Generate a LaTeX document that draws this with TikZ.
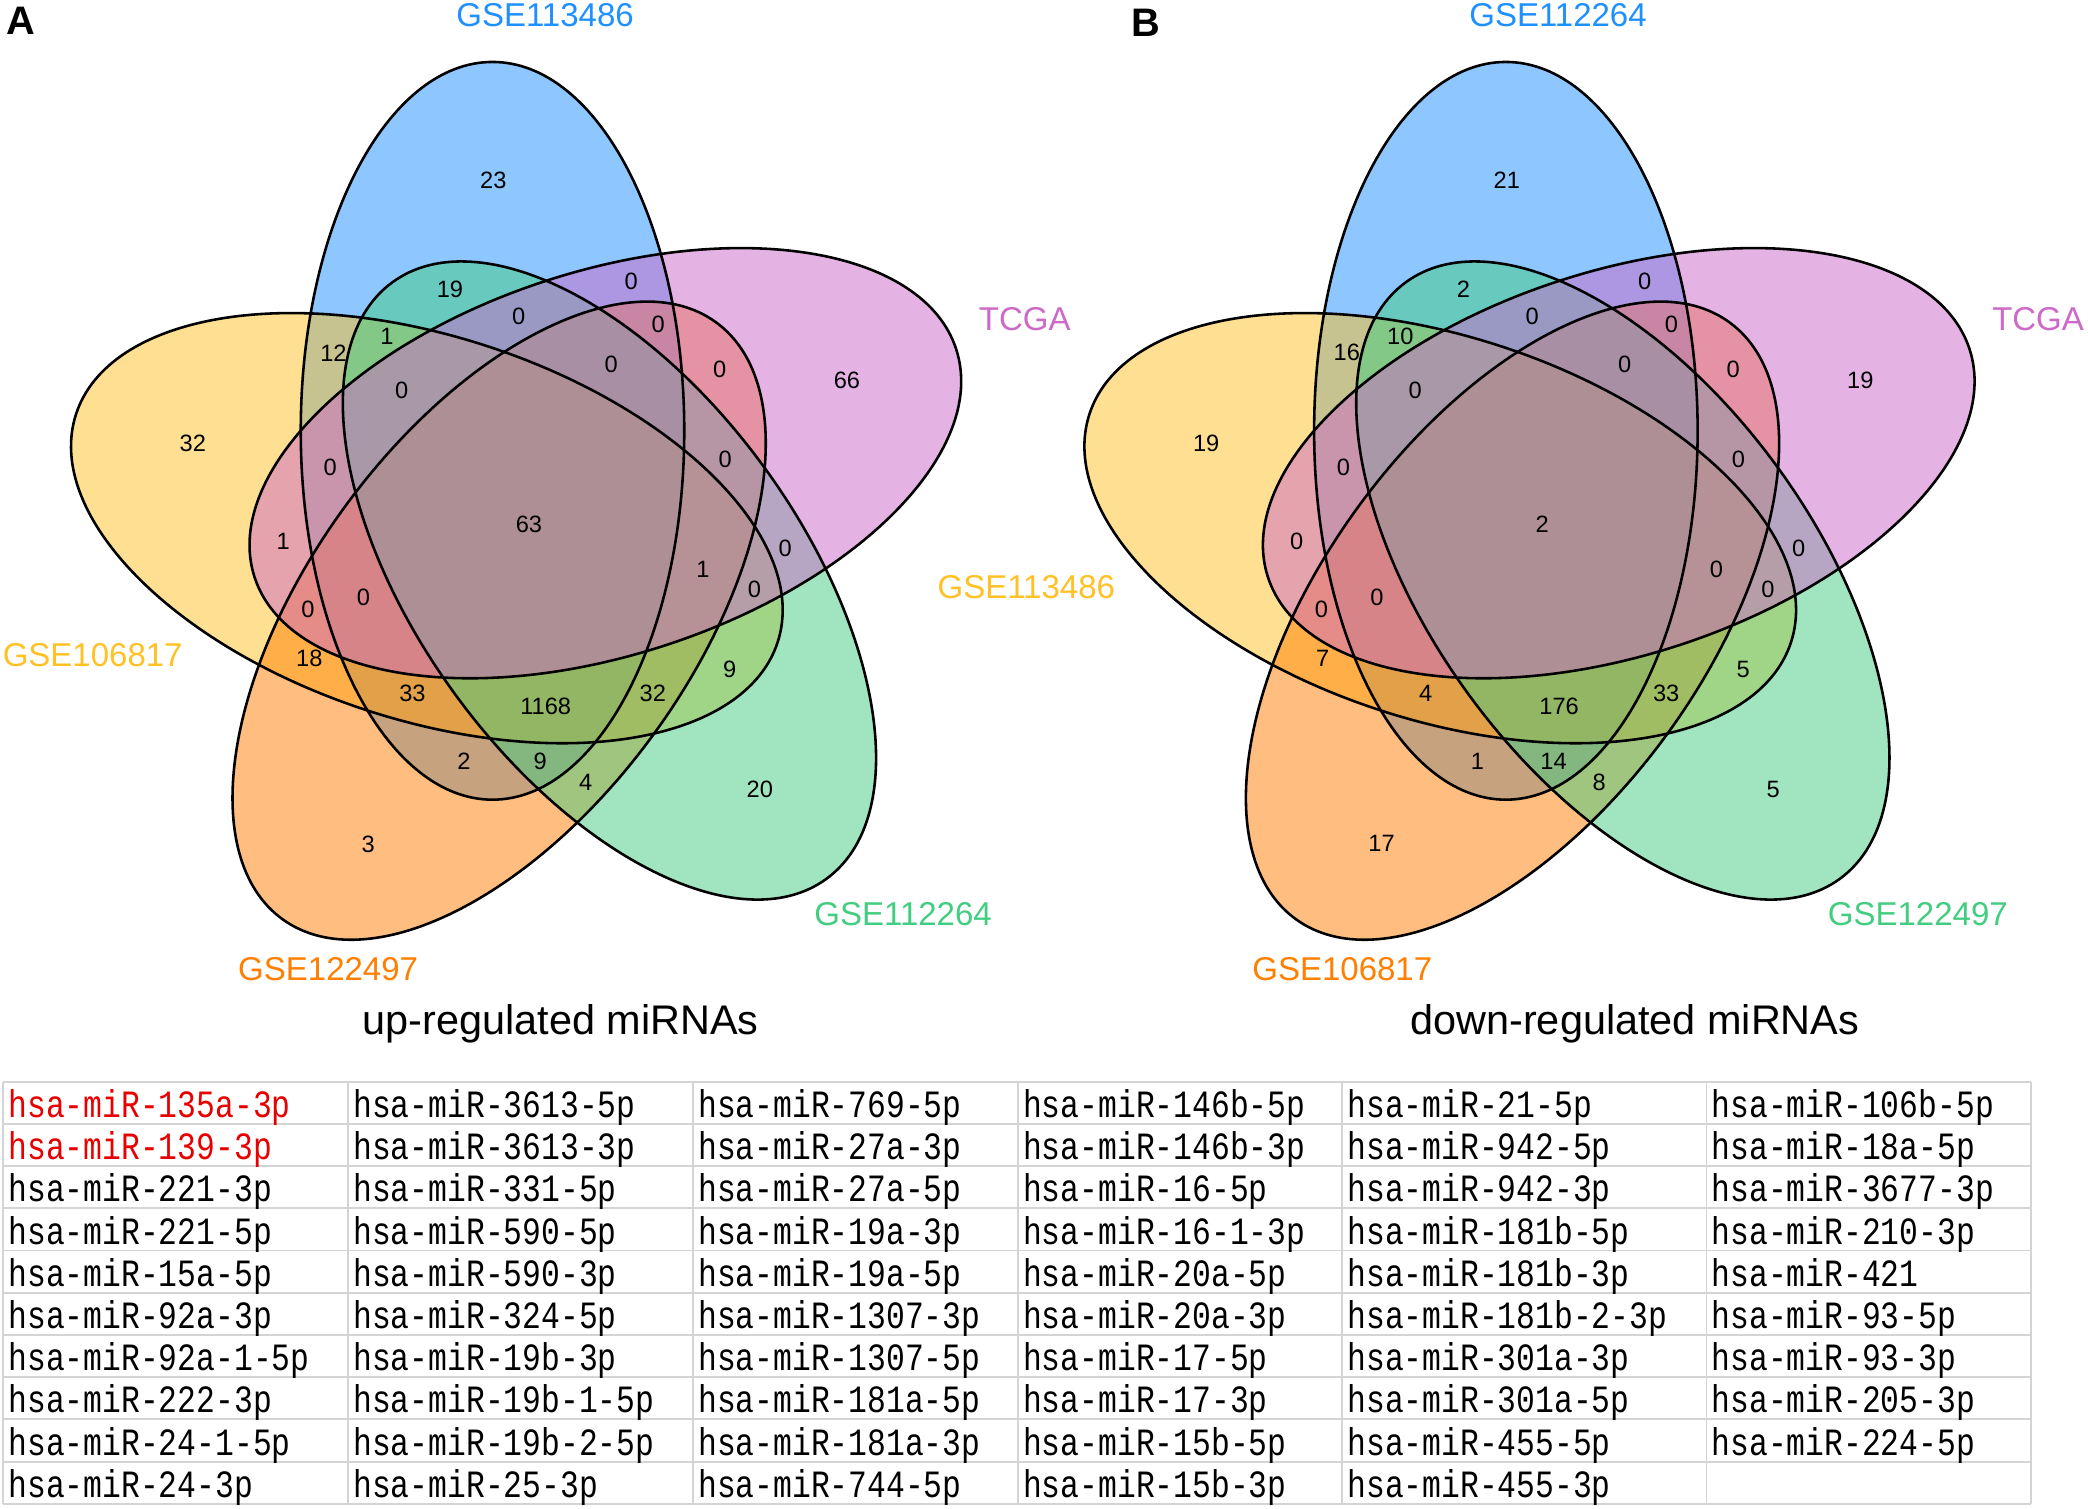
\documentclass[tikz,border=0pt]{standalone}
\usepackage{fontspec}
\setmainfont{Liberation Sans}
\newfontfamily\tabfont[FakeStretch=0.812]{Liberation Mono}
\usepackage{tikz}

\definecolor{setblue}{RGB}{30,144,255}
\definecolor{setyellow}{RGB}{255,193,37}
\definecolor{setorange}{RGB}{255,127,0}
\definecolor{setgreen}{RGB}{67,205,128}
\definecolor{setpink}{RGB}{205,105,201}
\definecolor{mirred}{RGB}{232,0,0}
\definecolor{gridgray}{RGB}{212,212,212}

\tikzset{
  vennline/.style={draw=black, line width=1.1pt},
  setnum/.style={inner sep=0pt, font=\fontsize{10.1}{12}\selectfont},
  setlabel/.style={inner sep=0pt, font=\fontsize{14.1}{16}\selectfont},
  paneltag/.style={inner sep=0pt, font=\bfseries\fontsize{17}{19}\selectfont},
  paneltitle/.style={inner sep=0pt, anchor=base, font=\fontsize{17.7}{20}\selectfont},
  gridline/.style={draw=gridgray, line width=0.8pt},
  cellbox/.style={inner sep=0pt, anchor=base west, font=\tabfont\fontsize{16.5}{18}\selectfont}
}

\begin{document}
\begin{tikzpicture}[x=0.2mm, y=-0.2mm]
        \def \cx {395.5}   % centre of the five ellipses (panel A)
        \def \cy {394}
        \def \rr {75}      % distance of each ellipse centre from it
        \def \ra {277}
        \def \rb {144}
        \def \shiftB {761} % panel B is panel A moved right
        \def \rowtop {812.3}
        \def \rowh {31.7}

        \useasboundingbox (0,0) rectangle (1568,1133);
        \fill[white] (0,0) rectangle (1568,1133);

        % fills first, outlines on top
        \foreach \dx in {0,\shiftB}{
          \foreach \col [count=\k from 0] in {setblue,setyellow,setorange,setgreen,setpink}{
            \pgfmathsetmacro\ecx{\cx+\dx+\rr*cos(110+72*\k)}
            \pgfmathsetmacro\ecy{\cy-\rr*sin(110+72*\k)}
            \pgfmathsetmacro\erot{90+72*\k}
            \fill[\col, fill opacity=.5, rotate around={\erot:(\ecx,\ecy)}]
              (\ecx,\ecy) ellipse [x radius=\ra, y radius=\rb];
          }
        }
        \foreach \dx in {0,\shiftB}{
          \foreach \k in {0,...,4}{
            \pgfmathsetmacro\ecx{\cx+\dx+\rr*cos(110+72*\k)}
            \pgfmathsetmacro\ecy{\cy-\rr*sin(110+72*\k)}
            \pgfmathsetmacro\erot{90+72*\k}
            \draw[vennline, rotate around={\erot:(\ecx,\ecy)}]
              (\ecx,\ecy) ellipse [x radius=\ra, y radius=\rb];
          }
        }

        % region counts: x / y / up / down
        \foreach \px/\py/\na/\nb [count=\i] in {
            370.5/135.7/23/21, 337.9/217/19/2, 474/211.4/0/0, 636/286/66/19,
            250.4/264.9/12/16, 290.6/252.7/1/10, 389.6/237.7/0/0, 494.2/243.7/0/0,
            301.7/293.3/0/0, 459/273.9/0/0, 540.5/277/0/0, 144.8/333.3/32/19,
            247.9/350.6/0/0, 544.5/345/0/0, 397.2/394/63/2, 212.7/406.3/1/0,
            589.7/411.7/0/0, 527.9/427.2/1/0, 273/448.4/0/0, 566.6/442.5/0/0,
            231.3/457.3/0/0, 232.3/494.3/18/7, 548/502.8/9/5, 309.7/521/33/4,
            490.2/521/32/33, 409.8/530.5/1168/176, 348.4/572/2/1, 405.7/572/9/14,
            439.9/587.3/4/8, 570.6/592.7/20/5, 276.5/633.7/3/17}{
          \node[setnum] (na\i) at (\px,\py) {\na};
          \node[setnum] (nb\i) at (\px+\shiftB,\py) {\nb};
        }

        % set names
        \foreach \t/\col/\px/\py [count=\i] in {
            GSE113486/setblue/409.3/11.3, TCGA/setpink/769.5/240,
            GSE106817/setyellow/69.6/492.1, GSE112264/setgreen/678.2/686.5,
            GSE122497/setorange/246.4/727.5,
            GSE112264/setblue/1170/11.2, TCGA/setpink/1530.5/240,
            GSE113486/setyellow/770.7/441, GSE122497/setgreen/1440.2/686.5,
            GSE106817/setorange/1008/727.5}{
          \node[setlabel, text=\col] (lab\i) at (\px,\py) {\t};
        }

        \node[paneltag] (tagA) at (15.7,15.7) {A};
        \node[paneltag] (tagB) at (860.5,16.8) {B};
        \node[paneltitle] (titleA) at (421,776.8) {up-regulated miRNAs};
        \node[paneltitle] (titleB) at (1227.7,776.8) {down-regulated miRNAs};

        % table of the shared miRNAs
        \foreach \i in {0,...,10}
          \draw[gridline] (2.5,\rowtop+\i*\rowh) -- (1525,\rowtop+\i*\rowh);
        \foreach \x in {2.5,261.5,520.5,764.5,1008,1281.5,1525}
          \draw[gridline] (\x,\rowtop) -- (\x,\rowtop+10*\rowh);

        \foreach \x/\items [count=\c] in {
            2.5/{hsa-miR-135a-3p,hsa-miR-139-3p,hsa-miR-221-3p,hsa-miR-221-5p,hsa-miR-15a-5p,
                 hsa-miR-92a-3p,hsa-miR-92a-1-5p,hsa-miR-222-3p,hsa-miR-24-1-5p,hsa-miR-24-3p},
            261.5/{hsa-miR-3613-5p,hsa-miR-3613-3p,hsa-miR-331-5p,hsa-miR-590-5p,hsa-miR-590-3p,
                 hsa-miR-324-5p,hsa-miR-19b-3p,hsa-miR-19b-1-5p,hsa-miR-19b-2-5p,hsa-miR-25-3p},
            520.5/{hsa-miR-769-5p,hsa-miR-27a-3p,hsa-miR-27a-5p,hsa-miR-19a-3p,hsa-miR-19a-5p,
                 hsa-miR-1307-3p,hsa-miR-1307-5p,hsa-miR-181a-5p,hsa-miR-181a-3p,hsa-miR-744-5p},
            764.5/{hsa-miR-146b-5p,hsa-miR-146b-3p,hsa-miR-16-5p,hsa-miR-16-1-3p,hsa-miR-20a-5p,
                 hsa-miR-20a-3p,hsa-miR-17-5p,hsa-miR-17-3p,hsa-miR-15b-5p,hsa-miR-15b-3p},
            1008/{hsa-miR-21-5p,hsa-miR-942-5p,hsa-miR-942-3p,hsa-miR-181b-5p,hsa-miR-181b-3p,
                 hsa-miR-181b-2-3p,hsa-miR-301a-3p,hsa-miR-301a-5p,hsa-miR-455-5p,hsa-miR-455-3p},
            1281.5/{hsa-miR-106b-5p,hsa-miR-18a-5p,hsa-miR-3677-3p,hsa-miR-210-3p,hsa-miR-421,
                 hsa-miR-93-5p,hsa-miR-93-3p,hsa-miR-205-3p,hsa-miR-224-5p}}{
          \foreach \t [count=\r] in \items {
            \ifnum\c=1 \ifnum\r<3 \def\tc{mirred}\else\def\tc{black}\fi\else\def\tc{black}\fi
            \node[cellbox, text=\tc] (cell-\c-\r) at (\x+3.5,\rowtop+\r*\rowh-4.9) {\t};
          }
        }
\end{tikzpicture}
\end{document}
